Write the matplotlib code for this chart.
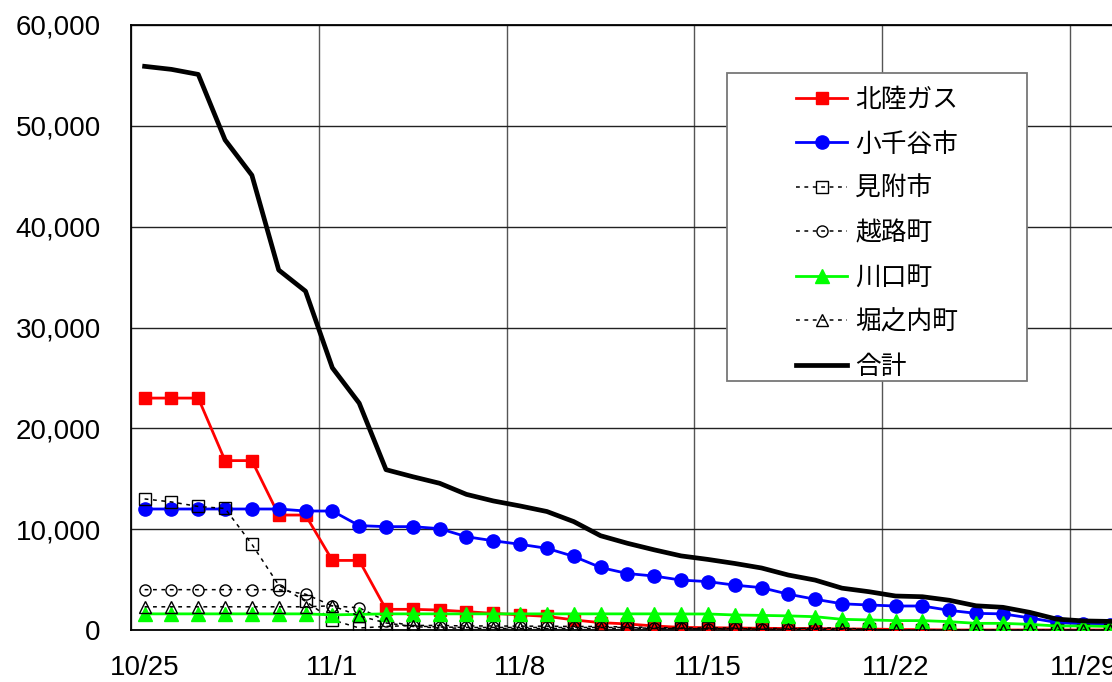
import matplotlib
matplotlib.use('Agg')
from matplotlib import pyplot as plt
from matplotlib.patches import Rectangle
from matplotlib.ticker import FuncFormatter, FixedLocator

plt.rcParams['font.family'] = ['Liberation Sans', 'Noto Sans CJK JP']

####

# 10/25 .. 11/30, one point per day
dates = ['10/25', '10/26', '10/27', '10/28', '10/29', '10/30', '10/31',
         '11/1', '11/2', '11/3', '11/4', '11/5', '11/6', '11/7',
         '11/8', '11/9', '11/10', '11/11', '11/12', '11/13', '11/14',
         '11/15', '11/16', '11/17', '11/18', '11/19', '11/20', '11/21',
         '11/22', '11/23', '11/24', '11/25', '11/26', '11/27', '11/28',
         '11/29', '11/30']

hokuriku_gas = [23000, 23000, 23000, 16800, 16800, 11400, 11400,
                6900, 6900, 2050, 2050, 1980, 1820, 1650,
                1500, 1350, 1000, 730, 600, 400, 260,
                230, 200, 170, 150, 150, 100, 100,
                50, 30, 0, 0, 0, 0, 0,
                0, 0]
ojiya = [12000, 12000, 12000, 12000, 12000, 12000, 11800,
         11800, 10350, 10250, 10250, 10050, 9250, 8850,
         8500, 8100, 7300, 6200, 5600, 5350, 4950,
         4800, 4450, 4200, 3550, 3050, 2600, 2480,
         2380, 2380, 1950, 1650, 1600, 1200, 750,
         600, 520]
mitsuke = [13000, 12700, 12250, 12050, 8500, 4450, 2850,
           1000, 200, 350, 450, 450, 400, 400,
           380, 380, 350, 350, 300, 250, 200,
           200, 200, 150, 150, 150, 120, 60,
           0, 0, 0, 0, 0, 0, 0,
           0, 0]
koshiji = [4000, 4000, 4000, 4000, 4000, 4000, 3550,
           2400, 2200, 900, 400, 300, 250, 250,
           250, 250, 250, 250, 250, 150, 150,
           120, 150, 80, 100, 200, 200, 50,
           0, 0, 0, 0, 0, 0, 0,
           0, 0]
kawaguchi = [1600, 1600, 1600, 1600, 1600, 1600, 1600,
             1500, 1550, 1600, 1600, 1600, 1600, 1600,
             1600, 1600, 1600, 1600, 1600, 1600, 1590,
             1590, 1490, 1450, 1400, 1320, 1060, 1000,
             930, 930, 830, 660, 660, 560, 400,
             400, 350]
horinouchi = [2300, 2300, 2300, 2300, 2300, 2300, 2300,
              2400, 1400, 700, 350, 200, 180, 150,
              150, 150, 150, 150, 150, 150, 150,
              100, 100, 50, 50, 50, 50, 30,
              0, 0, 0, 0, 0, 0, 0,
              0, 0]
total = [55900, 55600, 55100, 48600, 45100, 35700, 33600,
         26000, 22500, 15900, 15200, 14550, 13450, 12800,
         12300, 11750, 10750, 9350, 8600, 7950, 7350,
         7000, 6600, 6150, 5450, 4950, 4150, 3800,
         3370, 3300, 2950, 2400, 2250, 1750, 1080,
         900, 850]

####

fig = plt.figure(figsize=(11.12, 6.82), dpi=100)
ax = fig.add_axes([131.2 / 1112, 52 / 682, 992.4 / 1112, 605 / 682])

x = list(range(len(dates)))
dash = (0, (2.5, 3))

ax.plot(x, hokuriku_gas, color='#ff0000', lw=2.0, marker='s', ms=8.5,
        label='北陸ガス', zorder=3)
ax.plot(x, ojiya, color='#0000ff', lw=2.0, marker='o', ms=9.5,
        label='小千谷市', zorder=3)
ax.plot(x, mitsuke, color='black', lw=1.1, ls=dash, marker='s', ms=8,
        mfc='none', mec='black', mew=1.0, label='見附市', zorder=3)
ax.plot(x, koshiji, color='black', lw=1.1, ls=dash, marker='o', ms=8,
        mfc='none', mec='black', mew=1.0, label='越路町', zorder=3)
ax.plot(x, kawaguchi, color='#00ff00', lw=2.0, marker='^', ms=10,
        label='川口町', zorder=3)
ax.plot(x, horinouchi, color='black', lw=1.1, ls=dash, marker='^', ms=8.5,
        mfc='none', mec='black', mew=1.0, label='堀之内町', zorder=3)
ax.plot(x, total, color='black', lw=3.4, label='合計', zorder=4)

ax.set_xlim(-0.5, len(dates) - 0.5)
ax.set_ylim(0, 60000)

# labels on every 7th day, grid between categories
label_pos = list(range(0, len(dates), 7))
ax.set_xticks(label_pos)
ax.set_xticklabels([dates[i] for i in label_pos])
ax.xaxis.set_minor_locator(FixedLocator([i - 0.5 for i in label_pos]))
ax.set_yticks(range(0, 60001, 10000))
ax.yaxis.set_major_formatter(FuncFormatter(lambda v, p: '{:,.0f}'.format(v)))

ax.tick_params(axis='x', which='major', length=0, pad=18, labelsize=20)
ax.tick_params(axis='x', which='minor', length=0)
ax.tick_params(axis='y', length=0, pad=22, labelsize=20)

ax.grid(axis='y', which='major', color='#222222', lw=1.0)
ax.grid(axis='x', which='minor', color='#555555', lw=1.0)
ax.set_axisbelow(True)

for s in ax.spines.values():
  s.set_color('black')
  s.set_linewidth(1.3)

# legend box is wider than its contents, so draw the frame separately
box = Rectangle((0.600, 0.4116), 0.3027, 0.5091, transform=ax.transAxes,
                facecolor='white', edgecolor='#777777', lw=1.3, zorder=5)
ax.add_patch(box)
leg = ax.legend(loc='center', bbox_to_anchor=(0.7515, 0.6555),
                borderaxespad=0, borderpad=0, fontsize=18.5,
                handlelength=2.0, handletextpad=0.3, labelspacing=0.79,
                numpoints=1, frameon=False)
leg.set_zorder(6)

fig.savefig('out.png', dpi=100)
